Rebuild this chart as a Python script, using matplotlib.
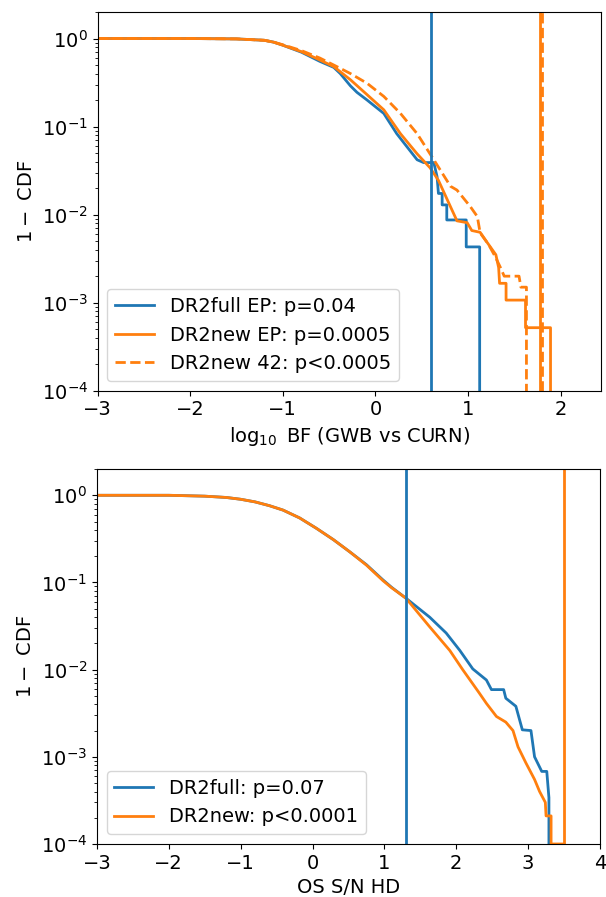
import numpy as np
import matplotlib
matplotlib.use('Agg')
import matplotlib.pyplot as plt

plt.rc('font', size=14)
plt.rc('axes', labelsize=14)
plt.rc('legend', fontsize=14)
plt.rc('xtick', labelsize=14)
plt.rc('ytick', labelsize=14)

# top panel: log10 BF (GWB vs CURN), survival function 1 - CDF
bf_full_x = [-3, -2, -1.5, -1.2, -1.1, -1.0, -0.8, -0.6, -0.45, -0.38, -0.27, -0.2, -0.09,
             0.09, 0.23, 0.34, 0.45, 0.52, 0.63, 0.665, 0.68, 0.72, 0.72, 0.77, 0.77, 0.98,
             0.98, 1.125, 1.125]
bf_full_sf = [1.0, 1.0, 0.99, 0.955, 0.91, 0.84, 0.70, 0.55, 0.47, 0.40, 0.29, 0.245, 0.20,
              0.141, 0.083, 0.059, 0.042, 0.039, 0.039, 0.027, 0.0174, 0.0174, 0.0129, 0.0129,
              0.0087, 0.0087, 0.0043, 0.0043, 0.0]

bf_new_x = [-3, -2, -1.5, -1.2, -1.1, -1.0, -0.8, -0.63, -0.45, -0.27, -0.09, 0.09, 0.27,
            0.45, 0.59, 0.68, 0.81, 0.88, 0.99, 1.04, 1.13, 1.19, 1.24, 1.30, 1.33, 1.34,
            1.41, 1.41, 1.62, 1.62, 1.89, 1.89]
bf_new_sf = [1.0, 1.0, 0.99, 0.955, 0.91, 0.84, 0.71, 0.59, 0.48, 0.34, 0.23, 0.155, 0.083,
             0.049, 0.034, 0.0245, 0.0123, 0.0085, 0.0081, 0.0066, 0.0063, 0.0051, 0.0043,
             0.0035, 0.0025, 0.00166, 0.00166, 0.00107, 0.00107, 0.00052, 0.00052, 0.0]

bf_42_x = [-3, -2, -1.5, -1.2, -1.1, -1.0, -0.8, -0.6, -0.45, -0.27, -0.09, 0.09, 0.27, 0.45,
           0.63, 0.81, 0.88, 1.025, 1.10, 1.13, 1.22, 1.295, 1.35, 1.39, 1.55, 1.57, 1.63,
           1.64]
bf_42_sf = [1.0, 1.0, 0.99, 0.955, 0.91, 0.85, 0.73, 0.60, 0.50, 0.40, 0.31, 0.22, 0.141,
            0.083, 0.042, 0.021, 0.019, 0.0123, 0.0095, 0.0062, 0.0046, 0.0033, 0.0025,
            0.0020, 0.0020, 0.0015, 0.0015, 0.0]

bf_obs = {'full': 0.60, 'new': 1.78, '42': 1.80}

# bottom panel: OS S/N HD
sn_full_x = [-3, -2, -1.5, -1.2, -1.0, -0.8, -0.6, -0.41, -0.18, 0.056, 0.29, 0.52, 0.75,
             0.98, 1.1, 1.30, 1.63, 1.86, 2.05, 2.23, 2.42, 2.49, 2.66, 2.69, 2.83, 2.92,
             3.04, 3.09, 3.19, 3.26, 3.29, 3.29]
sn_full_sf = [1.0, 1.0, 0.977, 0.944, 0.90, 0.84, 0.76, 0.676, 0.55, 0.417, 0.31, 0.224,
              0.16, 0.107, 0.088, 0.066, 0.040, 0.0263, 0.0166, 0.0102, 0.0076, 0.0059,
              0.0059, 0.0047, 0.0038, 0.00204, 0.0020, 0.0010, 0.00068, 0.00068, 0.00034, 0.0]

sn_new_x = [-3, -2, -1.5, -1.2, -1.0, -0.8, -0.6, -0.41, -0.18, 0.056, 0.29, 0.52, 0.75,
            0.98, 1.1, 1.30, 1.63, 1.91, 2.09, 2.32, 2.42, 2.56, 2.69, 2.79, 2.86, 2.97,
            3.09, 3.16, 3.24, 3.25, 3.32, 3.32, 3.50, 3.50]
sn_new_sf = [1.0, 1.0, 0.977, 0.944, 0.90, 0.84, 0.76, 0.676, 0.55, 0.417, 0.31, 0.224,
             0.158, 0.105, 0.087, 0.066, 0.031, 0.0166, 0.010, 0.0054, 0.0041, 0.0029,
             0.0025, 0.0020, 0.0013, 0.00085, 0.00055, 0.0004, 0.0003, 0.00021, 0.00021,
             0.0001, 0.0001, 0.0]

sn_obs = {'full': 1.30, 'new': 3.50}

c_full = 'tab:blue'
c_new = 'tab:orange'

fig = plt.figure(figsize=(6.06, 8.97), dpi=100)
ax1 = fig.add_axes([0.161, 0.5644, 0.830, 0.4222])
ax2 = fig.add_axes([0.160, 0.0591, 0.830, 0.4180])

ax1.plot(bf_full_x, bf_full_sf, color=c_full, lw=2, label='DR2full EP: p=0.04')
ax1.plot(bf_new_x, bf_new_sf, color=c_new, lw=2, label='DR2new EP: p=0.0005')
ax1.plot(bf_42_x, bf_42_sf, color=c_new, lw=2, ls='--', label='DR2new 42: p<0.0005')
ax1.axvline(bf_obs['full'], color=c_full, lw=2)
ax1.axvline(bf_obs['new'], color=c_new, lw=2)
ax1.axvline(bf_obs['42'], color=c_new, lw=2, ls='--')
ax1.set_yscale('log')
ax1.set_xlim(-3, 2.43)
ax1.set_ylim(1e-4, 2)
ax1.set_xlabel(r'$\log_{10}$ BF (GWB vs CURN)')
ax1.set_ylabel(r'$1-$ CDF')
ax1.legend(loc='lower left')

ax2.plot(sn_full_x, sn_full_sf, color=c_full, lw=2, label='DR2full: p=0.07')
ax2.plot(sn_new_x, sn_new_sf, color=c_new, lw=2, label='DR2new: p<0.0001')
ax2.axvline(sn_obs['full'], color=c_full, lw=2)
ax2.axvline(sn_obs['new'], color=c_new, lw=2)
ax2.set_yscale('log')
ax2.set_xlim(-3, 4)
ax2.set_ylim(1e-4, 2)
ax2.set_xlabel('OS S/N HD')
ax2.set_ylabel(r'$1-$ CDF')
ax2.legend(loc='lower left')

fig.savefig('out.png', dpi=100)
